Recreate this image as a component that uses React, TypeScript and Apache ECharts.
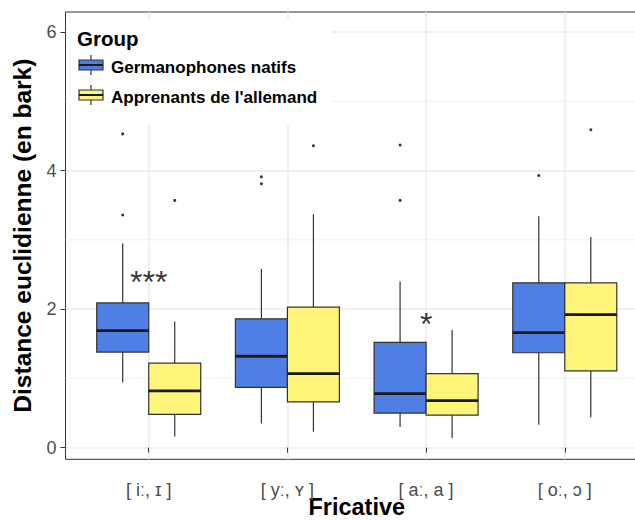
import React, { useEffect, useRef } from "react";
import * as echarts from "echarts";

const categories = ["[ iː, ɪ ]", "[ yː, ʏ ]", "[ aː, a ]", "[ oː, ɔ ]"];
const groups = ["Germanophones natifs", "Apprenants de l'allemand"];
const legendTitle = "Group";
const xTitle = "Fricative";
const yTitle = "Distance euclidienne (en bark)";

// [lower whisker, Q1, median, Q3, upper whisker]
const nativeBoxes = [
  [0.94, 1.38, 1.69, 2.09, 2.95],
  [0.35, 0.87, 1.32, 1.86, 2.58],
  [0.3, 0.5, 0.78, 1.52, 2.4],
  [0.33, 1.37, 1.66, 2.38, 3.34],
];
const learnerBoxes = [
  [0.16, 0.48, 0.82, 1.22, 1.82],
  [0.23, 0.66, 1.07, 2.03, 3.37],
  [0.14, 0.47, 0.68, 1.07, 1.7],
  [0.44, 1.11, 1.92, 2.38, 3.04],
];
// [category index, value]
const nativeOutliers = [
  [0, 4.53],
  [0, 3.36],
  [1, 3.91],
  [1, 3.81],
  [2, 4.37],
  [2, 3.57],
  [3, 3.93],
];
const learnerOutliers = [
  [0, 3.57],
  [1, 4.36],
  [3, 4.59],
];
// [category index, value, label]
const significance: [number, number, string][] = [
  [0, 2.48, "***"],
  [2, 1.87, "*"],
];
const yTicks = [0, 2, 4, 6];
const yMinor = [1, 3, 5];
const colors = ["#4F7FE5", "#FFF47A"];

const FONT = "'Liberation Sans', Arial, Helvetica, sans-serif";
const DODGE = 0.1875;
const BOX_W = 0.375;
const X_MIN = 0.4;
const X_MAX = 4.6;
const Y_MIN = -0.168;
const Y_MAX = 6.29;

function boxSeries(name: string, boxes: number[][], offset: number, color: string) {
  return {
    type: "custom",
    name,
    z: 3,
    data: boxes.map((b, i) => [i + 1 + offset, ...b]),
    encode: { x: 0, y: [1, 2, 3, 4, 5] },
    renderItem: (params: any, api: any) => {
      const x = api.value(0);
      const pMin = api.coord([x, api.value(1)]);
      const pQ1 = api.coord([x, api.value(2)]);
      const pMed = api.coord([x, api.value(3)]);
      const pQ3 = api.coord([x, api.value(4)]);
      const pMax = api.coord([x, api.value(5)]);
      const w = api.size([BOX_W, 0])[0];
      const cx = pMin[0];
      const lineStyle = { stroke: "#333333", lineWidth: 1.2 };
      return {
        type: "group",
        children: [
          { type: "line", shape: { x1: cx, y1: pQ3[1], x2: cx, y2: pMax[1] }, style: lineStyle },
          { type: "line", shape: { x1: cx, y1: pQ1[1], x2: cx, y2: pMin[1] }, style: lineStyle },
          {
            type: "rect",
            shape: { x: cx - w / 2, y: pQ3[1], width: w, height: pQ1[1] - pQ3[1] },
            style: { fill: color, stroke: "#333333", lineWidth: 1.2 },
          },
          {
            type: "line",
            shape: { x1: cx - w / 2, y1: pMed[1], x2: cx + w / 2, y2: pMed[1] },
            style: { stroke: "#1a1a1a", lineWidth: 2.8 },
          },
        ],
      };
    },
  };
}

function outlierSeries(pts: number[][], offset: number) {
  return {
    type: "scatter",
    z: 4,
    symbol: "circle",
    symbolSize: 3,
    itemStyle: { color: "#000000" },
    data: pts.map((p) => [p[0] + 1 + offset, p[1]]),
  };
}

function legendKey(y: number, color: string) {
  const x0 = 79;
  const w = 24;
  const cx = x0 + w / 2;
  const s = { stroke: "#333333", lineWidth: 1.2 };
  return [
    { type: "line", z: 101, shape: { x1: cx, y1: y - 10, x2: cx, y2: y + 10 }, style: s },
    { type: "rect", z: 102, shape: { x: x0, y: y - 5, width: w, height: 10 }, style: { fill: color, ...s } },
    { type: "line", z: 103, shape: { x1: x0, y1: y, x2: x0 + w, y2: y }, style: { stroke: "#1a1a1a", lineWidth: 2 } },
  ];
}

export default function App() {
  const ref = useRef<HTMLDivElement>(null);
  useEffect(() => {
    if (!ref.current) return;
    const chart = echarts.init(ref.current, undefined, { renderer: "svg" });
    const option: any = {
      animation: false,
      backgroundColor: "#ffffff",
      textStyle: { fontFamily: FONT },
      grid: {
        left: 65.5,
        top: 12,
        right: -13,
        bottom: 61.7,
        containLabel: false,
        outerBoundsMode: "none",
        show: true,
        borderColor: "#333333",
        borderWidth: 1,
        backgroundColor: "#ffffff",
      },
      xAxis: {
        type: "value",
        min: X_MIN,
        max: X_MAX,
        name: xTitle,
        nameLocation: "middle",
        nameGap: 39,
        nameMoveOverlap: false,
        nameTextStyle: { fontFamily: FONT, fontWeight: "bold", fontSize: 23.5, lineHeight: 18, color: "#000" },
        axisLine: { show: false },
        axisTick: { show: true, customValues: [1, 2, 3, 4], length: 5, lineStyle: { color: "#333333" } },
        axisLabel: {
          customValues: [1, 2, 3, 4],
          formatter: (v: number) => categories[Math.round(v) - 1] ?? "",
          fontFamily: FONT,
          fontSize: 18,
          color: "#4D4D4D",
          margin: 22,
        },
        splitLine: { show: true, lineStyle: { color: "#EBEBEB", width: 1.5 } },
      },
      yAxis: {
        type: "value",
        min: Y_MIN,
        max: Y_MAX,
        splitNumber: 3,
        name: yTitle,
        nameLocation: "middle",
        nameGap: 31,
        nameTextStyle: { fontFamily: FONT, fontWeight: "bold", fontSize: 24.5, color: "#000" },
        axisLine: { show: false },
        axisTick: { show: true, customValues: yTicks, length: 5, lineStyle: { color: "#333333" } },
        axisLabel: {
          customValues: yTicks,
          fontFamily: FONT,
          fontSize: 18,
          color: "#4D4D4D",
          margin: 9,
        },
        splitLine: { show: true, lineStyle: { color: "#EBEBEB", width: 1.5 } },
      },
      series: [
        {
          type: "custom",
          z: 1,
          silent: true,
          data: yMinor.map((v) => [X_MIN, v]),
          encode: { x: 0, y: 1 },
          renderItem: (params: any, api: any) => {
            const p = api.coord([X_MIN, api.value(1)]);
            const cs = params.coordSys;
            return {
              type: "line",
              shape: { x1: cs.x, y1: p[1], x2: cs.x + cs.width, y2: p[1] },
              style: { stroke: "#EBEBEB", lineWidth: 0.8 },
            };
          },
        },
        boxSeries(groups[0], nativeBoxes, -DODGE, colors[0]),
        boxSeries(groups[1], learnerBoxes, DODGE, colors[1]),
        outlierSeries(nativeOutliers, -DODGE),
        outlierSeries(learnerOutliers, DODGE),
        {
          type: "scatter",
          z: 5,
          symbolSize: 0,
          silent: true,
          data: significance.map((s) => [s[0] + 1, s[1], s[2]]),
          label: {
            show: true,
            position: "inside",
            formatter: (p: any) => p.value[2],
            fontFamily: FONT,
            fontSize: 32,
            color: "#000000",
            offset: [0, 6],
          },
        },
      ],
      graphic: [
        {
          type: "rect",
          z: 100,
          shape: { x: 66.5, y: 20, width: 265, height: 104 },
          style: { fill: "#ffffff" },
        },
        {
          type: "text",
          z: 104,
          x: 77,
          y: 38,
          style: {
            text: legendTitle,
            font: `bold 20.5px ${FONT}`,
            fill: "#000",
            verticalAlign: "middle",
            textVerticalAlign: "middle",
          },
        },
        ...legendKey(65, colors[0]),
        ...legendKey(95, colors[1]),
        {
          type: "text",
          z: 104,
          x: 111,
          y: 67,
          style: {
            text: groups[0],
            font: `bold 17px ${FONT}`,
            fill: "#000",
            verticalAlign: "middle",
            textVerticalAlign: "middle",
          },
        },
        {
          type: "text",
          z: 104,
          x: 111,
          y: 97,
          style: {
            text: groups[1],
            font: `bold 17px ${FONT}`,
            fill: "#000",
            verticalAlign: "middle",
            textVerticalAlign: "middle",
          },
        },
      ],
    };
    chart.setOption(option);
    return () => chart.dispose();
  }, []);
  return (
    <div
      ref={ref}
      style={{ position: "absolute", left: 0, top: 0, width: 635, height: 521, overflow: "hidden" }}
    />
  );
}
